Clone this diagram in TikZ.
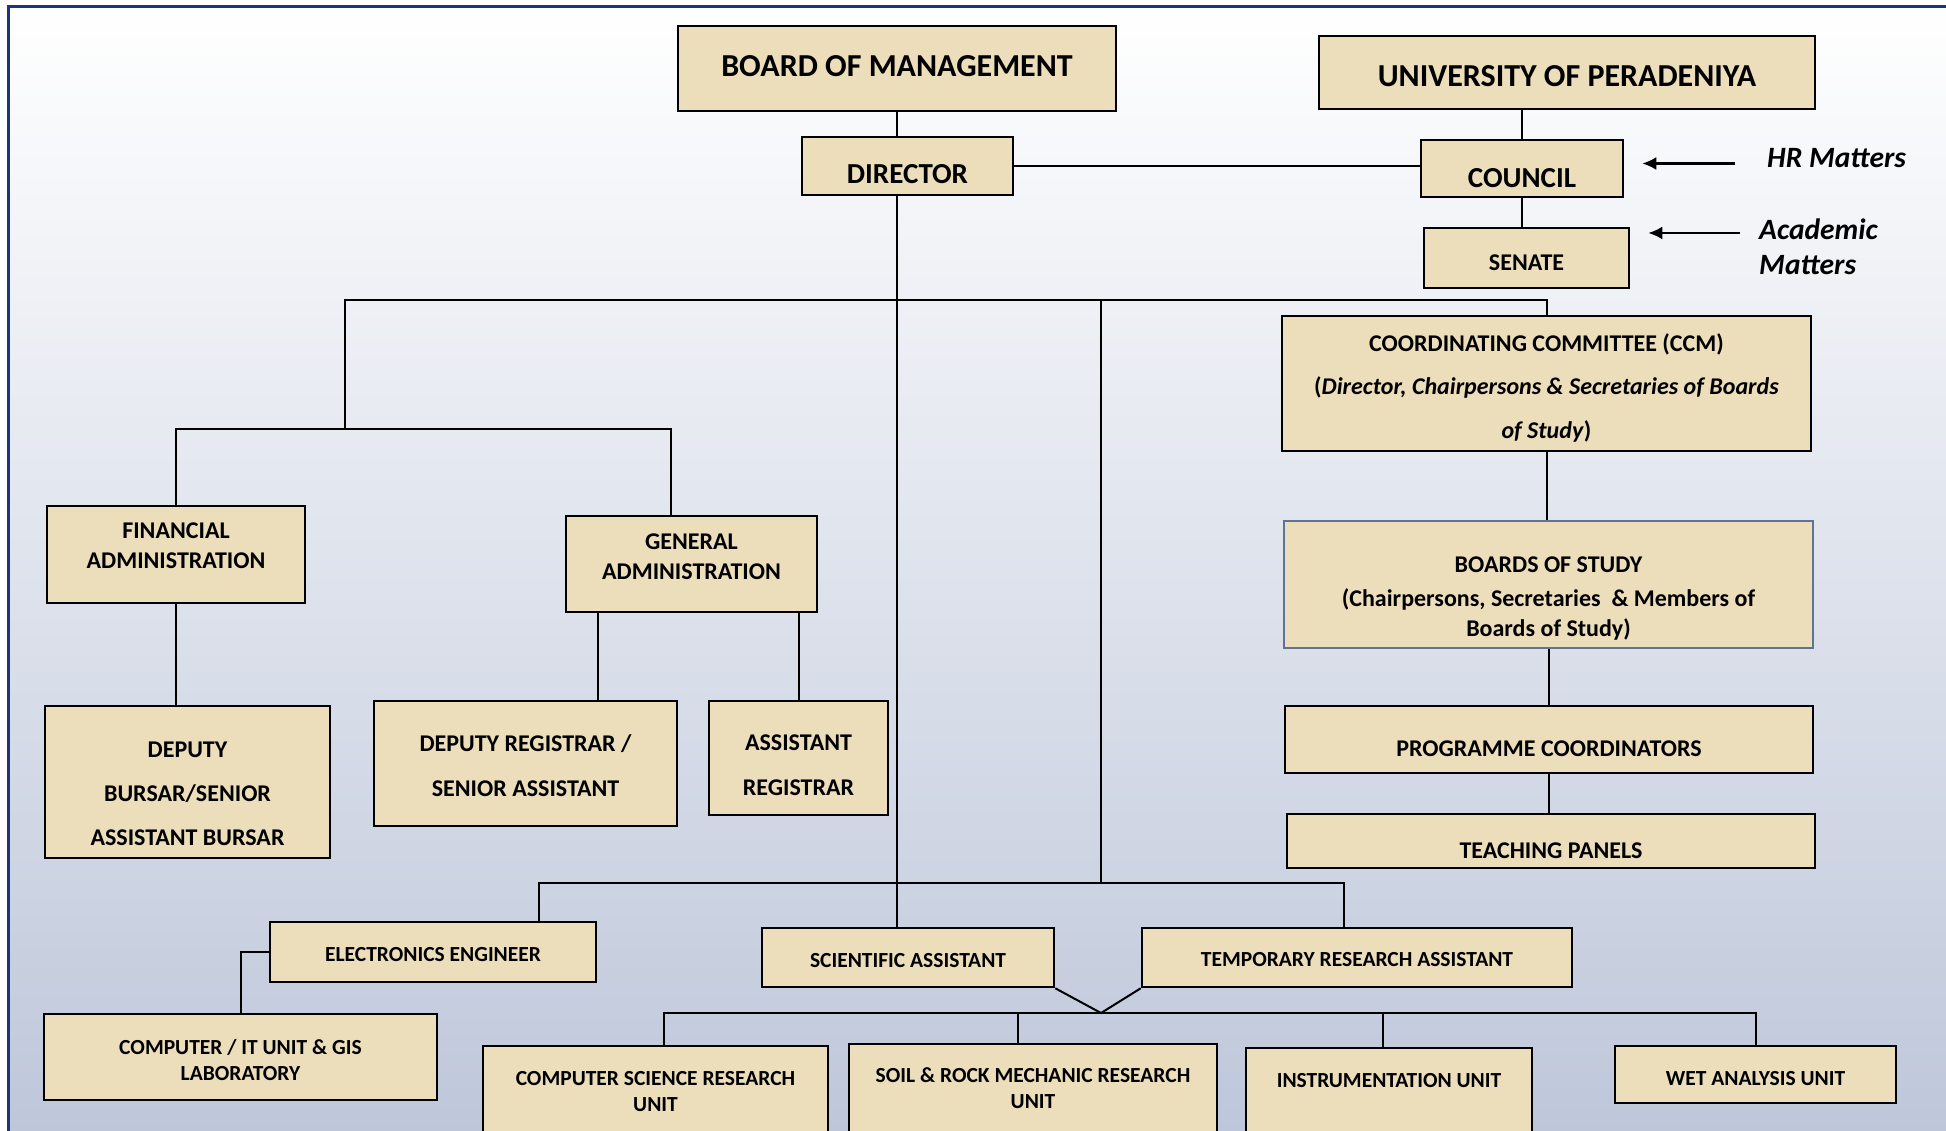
\documentclass[tikz,border=0pt]{standalone}
\usepackage{fontspec}
\setmainfont{Carlito}
\usetikzlibrary{arrows.meta}
\definecolor{parch}{RGB}{236,222,186}
\definecolor{bgblue}{RGB}{190,199,218}
\definecolor{navy}{RGB}{28,52,120}
\definecolor{bosline}{RGB}{95,115,150}
\newcommand{\boxtext}[2]{\raisebox{#1}[\height][\depth]{\begin{tabular}{@{}c@{}}#2\end{tabular}}}

\begin{document}
\begin{tikzpicture}[x=1pt, y=-1pt,
  box/.style={draw, line width=2.5pt, fill=parch, inner sep=0pt, font=\fontsize{24}{30}\selectfont\bfseries},
  bigtxt/.style={font=\fontsize{32}{38}\selectfont\bfseries},
  midtxt/.style={font=\fontsize{29}{35}\selectfont\bfseries},
  smalltxt/.style={font=\fontsize{21.5}{26}\selectfont\bfseries},
  conn/.style={line width=2pt},
  arr/.style={line width=2.5pt, -{Latex[length=14pt,width=13pt]}},
  note/.style={inner sep=0pt, font=\fontsize{29.5}{35}\selectfont\bfseries\itshape}]

 %page
  \useasboundingbox (0,0) rectangle (1946,1131);
  \fill[white] (0,0) rectangle (1946,1131);
  \shade[top color=white, bottom color=bgblue] (8.5,6.5) rectangle (1946,1131);
  \draw[navy, line width=3pt] (8.5,1131) -- (8.5,6.5) -- (1946,6.5);

 %top row
  \node[box, bigtxt, minimum width=438, minimum height=85] (bom) at (897,68.5) {\boxtext{0pt}{BOARD OF MANAGEMENT}};
  \node[box, bigtxt, minimum width=496, minimum height=73] (uop) at (1567,72.5) {\boxtext{-6pt}{UNIVERSITY OF PERADENIYA}};
  \node[box, midtxt, minimum width=211, minimum height=58] (dir) at (907.5,166) {\boxtext{-11pt}{DIRECTOR}};
  \node[box, midtxt, minimum width=202, minimum height=57] (council) at (1522,168.5) {\boxtext{-12pt}{COUNCIL}};
  \node[box, minimum width=205, minimum height=60] (senate) at (1526.5,258) {\boxtext{-7pt}{SENATE}};

 %notes
  \node[note, anchor=west] (hr) at (1767,158) {HR Matters};
  \node[note, anchor=west, align=left] (acad) at (1759,246.5) {Academic\\Matters};

 %right column
  \node[box, minimum width=529, minimum height=135] (ccm) at (1546.5,383.5)
    {\boxtext{-5pt}{COORDINATING COMMITTEE (CCM)\\[13.5pt] (\textit{Director, Chairpersons \& Secretaries of Boards}\\[13.5pt] \textit{of Study})}};
  \node[box, draw=bosline, line width=1.5pt, minimum width=529, minimum height=127] (bos) at (1548.5,584.5)
    {\boxtext{-14pt}{BOARDS OF STUDY\\[4pt] (Chairpersons, Secretaries\ \ \& Members of\\ Boards of Study)}};
  \node[box, minimum width=528, minimum height=67] (pc) at (1549,739.5) {\boxtext{-11pt}{PROGRAMME COORDINATORS}};
  \node[box, minimum width=528, minimum height=54] (tp) at (1551,841) {\boxtext{-11pt}{TEACHING PANELS}};

 %administration
  \node[box, minimum width=258, minimum height=97] (fa) at (176,554.5) {\boxtext{7pt}{FINANCIAL\\ ADMINISTRATION}};
  \node[box, minimum width=251, minimum height=96] (ga) at (691.5,564) {\boxtext{6pt}{GENERAL\\ ADMINISTRATION}};
  \node[box, minimum width=285, minimum height=152] (dbursar) at (187.5,782) {\boxtext{-13pt}{DEPUTY\\[14pt] BURSAR/SENIOR\\[14pt] ASSISTANT BURSAR}};
  \node[box, minimum width=303, minimum height=125] (dreg) at (525.5,763.5) {\boxtext{-4pt}{DEPUTY REGISTRAR /\\[15pt] SENIOR ASSISTANT}};
  \node[box, minimum width=179, minimum height=114] (areg) at (798.5,758) {\boxtext{-9pt}{ASSISTANT\\[15pt] REGISTRAR}};

 %staff
  \node[box, smalltxt, minimum width=326, minimum height=60] (ee) at (433,952) {\boxtext{-4pt}{ELECTRONICS ENGINEER}};
  \node[box, smalltxt, minimum width=393, minimum height=86] (cit) at (240.5,1057) {\boxtext{-5pt}{COMPUTER / IT UNIT \& GIS\\ LABORATORY}};
  \node[box, smalltxt, minimum width=292, minimum height=59] (sa) at (908,957.5) {\boxtext{-5pt}{SCIENTIFIC ASSISTANT}};
  \node[box, smalltxt, minimum width=430, minimum height=59] (tra) at (1357,957.5) {\boxtext{-4pt}{TEMPORARY RESEARCH ASSISTANT}};

 %units
  \node[box, smalltxt, minimum width=345, minimum height=104] (cs) at (655.5,1098) {\boxtext{4.5pt}{COMPUTER SCIENCE RESEARCH\\ UNIT}};
  \node[box, smalltxt, minimum width=368, minimum height=106] (soil) at (1033,1097) {\boxtext{6.5pt}{SOIL \& ROCK MECHANIC RESEARCH\\ UNIT}};
  \node[box, smalltxt, minimum width=286, minimum height=102] (instr) at (1389,1099) {\boxtext{16.5pt}{INSTRUMENTATION UNIT}};
  \node[box, smalltxt, minimum width=281, minimum height=57] (wet) at (1755.5,1074.5) {\boxtext{-6pt}{WET ANALYSIS UNIT}};

 %trunk
  \draw[conn] (bom.south) -- (bom.south |- dir.north);
  \draw[conn] (bom.south |- dir.south) -- (bom.south |- sa.north);
  \draw[conn] (dir.east) -- (dir.east -| council.west);
  \draw[conn] (council.north) -- (council.north |- uop.south);
  \draw[conn] (council.south) -- (council.south |- senate.north);

 %arrows
  \coordinate (hrin) at ([yshift=5pt]council.east);
  \draw[arr, shorten <=32pt, shorten >=18pt] (hr.west |- hrin) -- (hrin);
  \coordinate (acin) at ([yshift=25pt]senate.east);
  \draw[arr, shorten <=19pt, shorten >=18pt] (acad.west |- acin) -- (acin);

 %buses
  \coordinate (jl) at (345,300);
  \coordinate (jadm) at (345,429);
  \coordinate (jr) at (1101,300);
  \coordinate (jlow) at (1101,883);
  \coordinate (vb) at (1101,1013);
  \draw[conn] (ccm.north) |- (jl) -- (jadm);
  \draw[conn] (fa.north) |- (jadm) -| ([xshift=-21pt]ga.north);
  \draw[conn] (jr) -- (jlow);
  \draw[conn] ([xshift=106pt]ee.north) |- (jlow) -| ([xshift=-13pt]tra.north);

 %right chain
  \draw[conn] (ccm.south) -- (ccm.south |- bos.north);
  \draw[conn] (bos.south) -- (bos.south |- pc.north);
  \draw[conn] (pc.south) -- (pc.south |- tp.north);

 %left chain
  \coordinate (gl) at ([xshift=33pt]ga.south west);
  \draw[conn] (fa.south) -- (fa.south |- dbursar.north);
  \draw[conn] (gl) -- (gl |- dreg.north);
  \draw[conn] (areg.north) -- (areg.north |- ga.south);
  \draw[conn] (ee.west) -| (cit.north);

 %units bus
  \draw[conn] (sa.south east) -- (vb) -- (tra.south west);
  \draw[conn] ([xshift=8pt]cs.north) |- (vb) -| (wet.north);
  \draw[conn] ([xshift=-15pt]soil.north) |- (vb);
  \draw[conn] ([xshift=-6pt]instr.north) |- (vb);

\end{tikzpicture}
\end{document}
